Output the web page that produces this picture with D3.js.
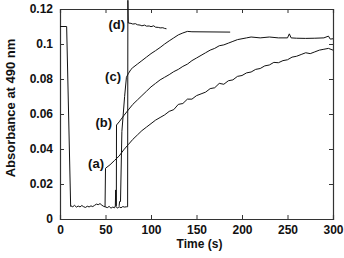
<!DOCTYPE html>
<html><head><meta charset="utf-8">
<script src="https://cdn.jsdelivr.net/npm/d3@7"></script>
<style>
html,body{margin:0;padding:0;background:#fff;}
text{font-family:"Liberation Sans",Arial,sans-serif;font-weight:bold;fill:#111;}
</style></head>
<body><svg id="c" width="344" height="258"></svg>
<script>
// ---- data ----
const xTicks = [0, 50, 100, 150, 200, 250, 300];
const yTicks = [0, 0.02, 0.04, 0.06, 0.08, 0.1, 0.12];
const yTickLabels = ["0", "0.02", "0.04", "0.06", "0.08", "0.1", "0.12"];

// common start: initial level, drop, baseline
const commonT = [0, 7.3, 11.7, 12, 14, 16, 18, 20, 22, 24, 26, 28, 30, 32, 34, 36, 38, 40, 42, 44, 46, 48, 49.5];
const commonV = [0.11, 0.11, 0.0072, 0.0075, 0.007, 0.0078, 0.0068, 0.0074, 0.0069, 0.0077, 0.007, 0.0066, 0.0073, 0.0069, 0.0075, 0.0071, 0.0078, 0.0085, 0.0082, 0.0088, 0.0079, 0.0072, 0.007];

// (a)
const aT = [49.5, 50, 55, 60, 65, 70, 75, 80, 85, 90, 95, 100, 105, 110, 115, 120, 125, 130, 135, 140, 145, 150, 155, 160, 165, 170, 175, 180, 185, 190, 195, 200, 205, 210, 215, 220, 225, 230, 235, 240, 245, 250, 255, 260, 265, 270, 275, 280, 285, 290, 295, 300];
const aV = [0.007, 0.029, 0.031, 0.0335, 0.036, 0.0395, 0.0425, 0.0455, 0.048, 0.0505, 0.0525, 0.0545, 0.0565, 0.058, 0.0595, 0.0615, 0.0625, 0.0655, 0.066, 0.0685, 0.0685, 0.0705, 0.0715, 0.0725, 0.0745, 0.075, 0.0775, 0.077, 0.079, 0.0795, 0.0815, 0.082, 0.0835, 0.084, 0.0855, 0.086, 0.0875, 0.088, 0.0895, 0.0893, 0.0905, 0.091, 0.0925, 0.093, 0.094, 0.095, 0.0945, 0.0955, 0.0965, 0.097, 0.0975, 0.0965];

// baseline continuing, then (d)
const dT = [49.5, 52, 54, 56, 58, 60, 60.8, 61.2, 61.6, 63, 65, 67, 69, 71, 73, 74.3, 74.6, 75, 78, 80, 83, 85, 88, 90, 93, 95, 98, 100, 103, 105, 108, 110, 113, 115, 117];
const dV = [0.007, 0.0065, 0.0072, 0.0062, 0.0068, 0.0064, 0.0075, 0.0166, 0.0072, 0.0062, 0.007, 0.0064, 0.0071, 0.0068, 0.007, 0.007, 0.125, 0.112, 0.1118, 0.1114, 0.1116, 0.111, 0.1108, 0.1104, 0.1108, 0.1102, 0.1103, 0.1099, 0.1104, 0.1096, 0.1095, 0.1092, 0.1093, 0.1089, 0.1087];

// (b)
const bT = [61.9, 62.1, 65, 70, 75, 80, 85, 90, 95, 100, 105, 110, 115, 120, 125, 130, 135, 140, 145, 150, 155, 160, 165, 170, 175, 180, 185, 190, 195, 200, 205, 210, 220, 230, 240, 250, 252, 254, 260, 270, 280, 290, 295, 297, 300];
const bV = [0.0075, 0.0537, 0.0555, 0.059, 0.0623, 0.0655, 0.068, 0.0705, 0.073, 0.0755, 0.0775, 0.0795, 0.081, 0.0825, 0.0842, 0.0855, 0.0872, 0.0885, 0.0905, 0.092, 0.0935, 0.095, 0.0965, 0.0975, 0.099, 0.0995, 0.1005, 0.1015, 0.1025, 0.103, 0.1035, 0.104, 0.1035, 0.104, 0.1035, 0.1035, 0.1058, 0.1035, 0.1033, 0.1032, 0.1033, 0.1035, 0.1045, 0.1028, 0.103];

// (c)
const cT = [65, 65.5, 66.5, 68, 71, 73, 75, 78, 80, 85, 90, 95, 100, 105, 110, 115, 120, 125, 130, 135, 140, 145, 187];
const cV = [0.0075, 0.01, 0.01, 0.05, 0.07, 0.081, 0.083, 0.0855, 0.0865, 0.0885, 0.0905, 0.0925, 0.0945, 0.0962, 0.098, 0.1, 0.1018, 0.1035, 0.1052, 0.1063, 0.1072, 0.107, 0.1068];

const labels = ["(a)", "(b)", "(c)", "(d)"];
const labelX = [104, 112, 121, 125];
const labelV = [0.032, 0.0549, 0.0815, 0.1114];

// ---- drawing ----
const svg = d3.select("#c");
const L = 60, R = 333, T = 9, B = 219;
const x = d3.scaleLinear().domain([0, 300]).range([L, R]);
const y = d3.scaleLinear().domain([0, 0.12]).range([B, T]);

const frame = "#333";
const gB = svg.append("g").attr("transform", `translate(0,${B})`)
  .call(d3.axisBottom(x).tickValues(xTicks).tickSize(-4).tickPadding(6).tickFormat(d3.format("d")));
const gL = svg.append("g").attr("transform", `translate(${L},0)`)
  .call(d3.axisLeft(y).tickValues(yTicks).tickSize(-4).tickPadding(7).tickFormat((d, i) => yTickLabels[i]));
const gT = svg.append("g").attr("transform", `translate(0,${T})`)
  .call(d3.axisTop(x).tickValues(xTicks).tickSize(-4).tickFormat(""));
const gR = svg.append("g").attr("transform", `translate(${R},0)`)
  .call(d3.axisRight(y).tickValues(yTicks).tickSize(-4).tickFormat(""));
[gB, gL, gT, gR].forEach(g => {
  g.select(".domain").attr("stroke", frame).attr("stroke-width", 1.2);
  g.selectAll(".tick line").attr("stroke", frame);
  g.selectAll("text").attr("font-size", 12).attr("font-family", '"Liberation Sans",Arial,sans-serif').attr("font-weight", "bold").attr("fill", "#111");
});

const line = d3.line().x(d => x(d[0])).y(d => y(d[1]));
const series = [[commonT, commonV], [aT, aV], [dT, dV], [bT, bV], [cT, cV]];
series.forEach(([ts, vs]) => {
  svg.append("path").datum(ts.map((t, i) => [t, vs[i]]))
    .attr("d", line).attr("fill", "none").attr("stroke", "#111").attr("stroke-width", 1);
});

labels.forEach((lab, i) => {
  svg.append("text").attr("x", labelX[i]).attr("y", y(labelV[i])).attr("dy", "0.35em")
    .attr("text-anchor", "end").attr("font-size", 13).text(lab);
});

svg.append("text").attr("transform", `translate(15,108) rotate(-90)`)
  .attr("text-anchor", "middle").attr("font-size", 13).text("Absorbance at 490 nm");
svg.append("text").attr("x", (L + R) / 2 + 3).attr("y", 248)
  .attr("text-anchor", "middle").attr("font-size", 12).text("Time (s)");
</script></body></html>
